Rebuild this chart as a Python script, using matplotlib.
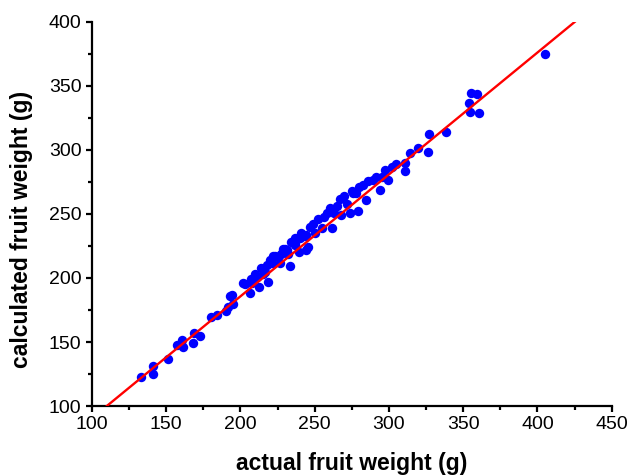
import matplotlib.pyplot as plt
import numpy as np

plt.rcParams['font.family'] = ['Liberation Sans', 'DejaVu Sans']

# actual vs calculated fruit weight (g)
actual = [133, 141, 140.8, 151, 157, 160.8, 161, 168, 168.8, 172.9,
          179.9, 184.3, 190.2, 191.7, 192.9, 194, 195, 201.8, 206.3, 209.7,
          212.6, 216.4, 218.6, 223.2, 226.5, 228.7, 233.2, 236.6, 240, 244,
          244, 222, 229.9, 236.6, 239.5, 243.3, 245.6, 250, 254.6, 258,
          261.3, 265, 268, 271.8, 273.6, 278, 279.2, 282.6, 284.4, 276,
          289.3, 293.8, 295, 299.4, 304.6, 310.6, 310.6, 314, 319.6, 326.3,
          327, 338.2, 355, 359.6, 353.9, 354.8, 360.4, 405,
          203, 207, 211, 214, 218, 220, 225, 227, 231, 234,
          237, 241, 247, 252, 256, 260, 263, 267, 270, 275,
          280, 286, 291, 297, 302, 208, 215, 221, 232, 249]
calculated = [123, 131, 124.8, 137, 148, 151.6, 146, 149, 156.8, 154.7,
              169.8, 171, 174.5, 177.6, 186, 187, 180, 196.3, 188, 203,
              193, 205, 197, 217, 211.5, 223, 209, 225.8, 231, 233.6,
              222, 217, 223, 227, 220.5, 232.8, 224.5, 235, 238.8, 250.5,
              238.8, 256, 249, 258, 250.5, 266, 252, 272.6, 261, 266,
              276.5, 269, 278.6, 276.5, 288.8, 289.6, 283.6, 298, 301.3, 298.7,
              312.5, 314.3, 344.3, 343.5, 337, 329.4, 329, 375.2,
              195, 199, 201, 208, 210, 214, 216, 219, 222, 228,
              231, 235, 240, 246, 248, 255, 251, 262, 264, 268,
              271, 276, 279, 284, 287, 196, 203, 212, 219, 242]

# fitted line
slope = 0.952
intercept = -4.7
line_x = np.array([100, 450])

fig = plt.figure(figsize=(6.3, 4.76), dpi=100)
ax = fig.add_axes([0.146, 0.147, 0.825, 0.807])

ax.scatter(actual, calculated, s=46, color='#0000FF', zorder=2, linewidths=0)
ax.plot(line_x, slope * line_x + intercept, color='#FF0000', lw=1.7, zorder=3)

ax.set_xlim(100, 450)
ax.set_ylim(100, 400)
ax.set_xticks(np.arange(100, 451, 50))
ax.set_xticks(np.arange(125, 450, 50), minor=True)
ax.set_yticks(np.arange(100, 401, 50))
ax.set_yticks(np.arange(125, 400, 50), minor=True)

for s in ['top', 'right']:
    ax.spines[s].set_visible(False)
for s in ['left', 'bottom']:
    ax.spines[s].set_linewidth(1.6)

ax.tick_params(which='major', direction='out', length=4.5, width=1.6, labelsize=14, pad=3)
ax.tick_params(which='minor', direction='out', length=3, width=1.6)

ax.set_xlabel('actual fruit weight (g)', fontsize=16.5, fontweight='bold', labelpad=13)
ax.set_ylabel('calculated fruit weight (g)', fontsize=16.5, fontweight='bold')
ax.yaxis.set_label_coords(-0.114, 0.46)

fig.savefig('out.png', dpi=100)
